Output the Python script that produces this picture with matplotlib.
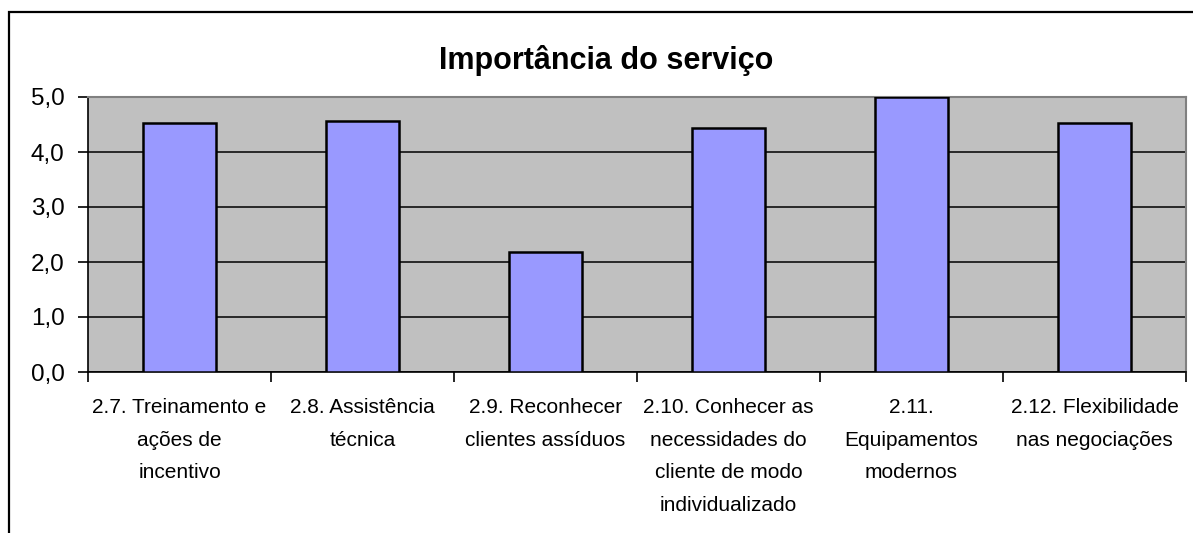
import matplotlib
matplotlib.use('Agg')
import matplotlib.pyplot as plt
from matplotlib.patches import Rectangle
from matplotlib.ticker import FixedLocator, FuncFormatter

# data
categories = ['2.7. Treinamento e\nações de\nincentivo',
              '2.8. Assistência\ntécnica',
              '2.9. Reconhecer\nclientes assíduos',
              '2.10. Conhecer as\nnecessidades do\ncliente de modo\nindividualizado',
              '2.11.\nEquipamentos\nmodernos',
              '2.12. Flexibilidade\nnas negociações']
values = [4.53, 4.56, 2.18, 4.44, 5.0, 4.53]
y_ticks = [0, 1, 2, 3, 4, 5]
title = 'Importância do serviço'

W, H = 1193, 533
fig = plt.figure(figsize=(W / 100, H / 100), dpi=100)

# outer chart frame (cut off at right and bottom like the screenshot)
fig.patches.append(Rectangle((9 / W, -0.1), 1.2, (H - 12) / H + 0.1,
                             transform=fig.transFigure, fill=False,
                             edgecolor='black', linewidth=1.6))

# plot area in pixels: left 88, right 1186, top 97, bottom 372
ax = fig.add_axes([88 / W, (H - 372) / H, (1186 - 88) / W, (372 - 97) / H])
ax.set_facecolor('#c0c0c0')

x = list(range(len(values)))
ax.bar(x, values, width=0.4, color='#9999ff', edgecolor='black',
       linewidth=1.8, zorder=3)

ax.set_xlim(-0.5, len(values) - 0.5)
ax.set_ylim(0, 5)
ax.yaxis.set_major_locator(FixedLocator(y_ticks))
ax.yaxis.set_major_formatter(FuncFormatter(lambda v, p: f'{v:.1f}'.replace('.', ',')))
ax.grid(axis='y', color='black', linewidth=1.1, zorder=1)

# category boundary ticks on the x axis, labels in the middle
ax.set_xticks([i - 0.5 for i in range(len(values) + 1)])
ax.set_xticklabels([])
ax.set_xticks(x, minor=True)
ax.set_xticklabels(categories, minor=True, fontsize=15,
                   family=['Liberation Sans Narrow', 'Liberation Sans'],
                   linespacing=1.9, va='top')
ax.tick_params(axis='x', which='minor', length=0, pad=19)
ax.tick_params(axis='x', which='major', length=7, direction='out', width=1.2)
ax.tick_params(axis='y', length=7, width=1.2, labelsize=17.5, pad=10)
for lab in ax.get_yticklabels():
    lab.set_family('Liberation Sans')

for side in ['top', 'right']:
    ax.spines[side].set_color('#808080')
    ax.spines[side].set_linewidth(1.5)
ax.spines['left'].set_color('black')
ax.spines['bottom'].set_color('black')
ax.spines['left'].set_linewidth(1.2)
ax.spines['bottom'].set_linewidth(1.2)

fig.text(606 / W, (H - 61) / H, title, ha='center', va='center',
         fontsize=22, fontweight='bold', family='Liberation Sans')

fig.savefig('out.png', dpi=100)
